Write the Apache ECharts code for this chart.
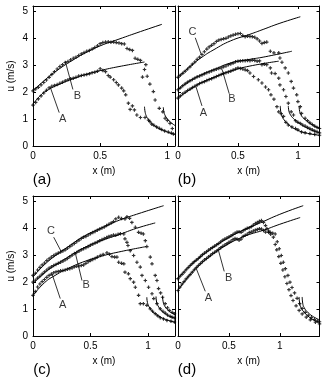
<!DOCTYPE html>
<html>
<head>
<meta charset="utf-8">
<script src="https://cdn.jsdelivr.net/npm/echarts@6/dist/echarts.min.js"></script>
<style>
html,body{margin:0;padding:0;background:#fff;}
#chart{width:327px;height:378px;}
</style>
</head>
<body>
<div id="chart"></div>
<script>
// ---------- data (x in m, u in m/s) ----------
const panelNames = ['(a)', '(b)', '(c)', '(d)'];
const xMaxes = [1.057, 1.18, 1.235, 1.39];
const yMax = 5.2;
const xTickStep = 0.5;
const yTickStep = 1;

// panel (a)
const a_ptsB = [[0,2.05],[0.02,2.12],[0.04,2.18],[0.06,2.27],[0.08,2.36],[0.10,2.45],[0.12,2.55],[0.14,2.66],[0.16,2.76],[0.18,2.86],[0.20,2.95],[0.22,3.02],[0.24,3.10],[0.26,3.14],[0.28,3.20],[0.30,3.26],[0.32,3.30],[0.34,3.36],[0.36,3.42],[0.38,3.47],[0.40,3.52],[0.42,3.55],[0.44,3.60],[0.46,3.66],[0.48,3.72],[0.50,3.80],[0.52,3.84],[0.54,3.86],[0.56,3.87],[0.58,3.85],[0.60,3.86],[0.62,3.84],[0.64,3.83],[0.66,3.80],[0.68,3.79],[0.70,3.62],[0.72,3.58],[0.74,3.55],[0.76,3.26],[0.78,3.22],[0.80,3.18],[0.815,2.56],[0.83,2.84],[0.84,3.02],[0.85,2.59],[0.87,2.30],[0.896,2.02],[0.909,1.71],[0.94,1.40],[0.966,1.27],[0.983,1.03],[1.0,0.95],[1.02,0.84],[1.037,0.65]];
const a_ptsA = [[0,1.52],[0.02,1.62],[0.04,1.75],[0.06,1.86],[0.08,1.97],[0.10,2.07],[0.12,2.16],[0.14,2.22],[0.16,2.25],[0.18,2.28],[0.20,2.33],[0.22,2.37],[0.24,2.42],[0.26,2.46],[0.28,2.50],[0.30,2.52],[0.32,2.55],[0.34,2.60],[0.36,2.62],[0.38,2.64],[0.40,2.66],[0.42,2.68],[0.44,2.72],[0.46,2.74],[0.48,2.78],[0.50,2.87],[0.52,2.80],[0.54,2.76],[0.56,2.62],[0.575,2.56],[0.60,2.46],[0.62,2.36],[0.636,2.27],[0.66,2.15],[0.675,2.05],[0.69,1.90],[0.71,1.59],[0.723,1.36],[0.74,1.49],[0.755,1.34],[0.773,1.15],[0.80,1.06],[0.834,1.06],[0.86,0.96],[0.87,0.90],[0.884,0.81],[0.90,0.77],[0.92,0.71],[0.94,0.66],[0.958,0.61],[0.98,0.56],[1.007,0.52],[1.03,0.48],[1.045,0.45]];
const a_fitB = [[0,2.05],[0.1,2.5],[0.2,2.88],[0.3,3.2],[0.39,3.46],[0.5,3.72],[0.64,3.97],[0.8,4.25],[0.96,4.52]];
const a_fitA = [[0,1.55],[0.05,1.85],[0.1,2.05],[0.2,2.3],[0.3,2.5],[0.39,2.65],[0.5,2.8],[0.64,2.95],[0.83,3.12]];
const a_decayA = [[0.83,1.46],[0.835,1.25],[0.845,1.1],[0.86,0.98],[0.884,0.84],[0.92,0.7],[0.96,0.6],[1.0,0.52],[1.057,0.42]];
const a_decayB = [[0.97,1.44],[0.975,1.25],[0.985,1.12],[0.995,1.04],[1.02,0.9],[1.057,0.76]];
const a_tags = [['B',0.331,1.84,0.297,2.10,0.24,3.15],['A',0.22,0.99,0.195,1.24,0.128,2.19]];

// panel (b)
const b_ptsC = [[0,2.55],[0.02,2.63],[0.04,2.70],[0.06,2.78],[0.08,2.86],[0.10,2.94],[0.12,3.04],[0.14,3.12],[0.16,3.22],[0.18,3.30],[0.20,3.40],[0.22,3.50],[0.24,3.60],[0.26,3.68],[0.28,3.74],[0.30,3.80],[0.32,3.88],[0.34,3.93],[0.36,3.96],[0.38,3.98],[0.40,4.00],[0.42,4.05],[0.44,4.09],[0.46,4.12],[0.48,4.15],[0.50,4.17],[0.52,4.18],[0.54,4.10],[0.56,4.06],[0.58,4.08],[0.60,4.07],[0.62,4.06],[0.64,4.04],[0.66,3.98],[0.68,3.90],[0.70,3.81],[0.72,3.84],[0.74,3.86],[0.77,3.52],[0.80,3.46],[0.84,3.46],[0.85,3.27],[0.867,3.11],[0.894,2.90],[0.92,2.71],[0.944,2.40],[0.963,2.15],[0.99,1.90],[1.0,1.65],[1.02,1.46],[1.03,1.21],[1.06,1.03],[1.08,0.94],[1.10,0.86],[1.12,0.80],[1.14,0.74],[1.16,0.69],[1.18,0.65]];
const b_ptsB = [[0,2.09],[0.02,2.16],[0.04,2.24],[0.06,2.31],[0.08,2.37],[0.10,2.42],[0.12,2.47],[0.14,2.52],[0.16,2.57],[0.18,2.60],[0.20,2.64],[0.22,2.68],[0.24,2.72],[0.26,2.75],[0.28,2.79],[0.30,2.82],[0.32,2.85],[0.34,2.88],[0.36,2.90],[0.38,2.94],[0.40,2.97],[0.42,3.02],[0.44,3.05],[0.46,3.08],[0.48,3.13],[0.50,3.15],[0.52,3.16],[0.54,3.17],[0.56,3.17],[0.58,3.18],[0.60,3.17],[0.62,3.19],[0.64,3.18],[0.66,3.15],[0.68,3.16],[0.70,3.02],[0.72,3.04],[0.74,3.02],[0.77,2.90],[0.78,2.71],[0.81,2.69],[0.84,2.52],[0.85,2.27],[0.88,2.09],[0.90,1.84],[0.92,1.59],[0.944,1.27],[0.963,1.15],[0.98,0.94],[1.0,0.88],[1.02,0.84],[1.04,0.78],[1.06,0.74],[1.08,0.69],[1.10,0.65],[1.12,0.60],[1.14,0.56],[1.16,0.52],[1.18,0.49]];
const b_ptsA = [[0,1.78],[0.02,1.86],[0.04,1.94],[0.06,2.00],[0.08,2.06],[0.10,2.11],[0.12,2.17],[0.14,2.22],[0.16,2.27],[0.18,2.32],[0.20,2.36],[0.22,2.39],[0.24,2.43],[0.26,2.47],[0.28,2.50],[0.30,2.54],[0.32,2.58],[0.34,2.62],[0.36,2.66],[0.38,2.69],[0.40,2.72],[0.42,2.75],[0.44,2.78],[0.46,2.82],[0.48,2.86],[0.50,2.90],[0.52,2.88],[0.54,2.86],[0.56,2.83],[0.58,2.80],[0.60,2.71],[0.63,2.58],[0.67,2.46],[0.70,2.34],[0.73,2.19],[0.755,2.09],[0.775,1.90],[0.80,1.74],[0.825,1.46],[0.84,1.27],[0.86,1.20],[0.88,1.10],[0.90,0.88],[0.92,0.78],[0.95,0.71],[0.98,0.65],[1.0,0.60],[1.03,0.52],[1.06,0.49],[1.10,0.46],[1.14,0.43],[1.18,0.40]];
const b_fitC = [[0,2.55],[0.1,2.95],[0.2,3.3],[0.3,3.58],[0.436,3.9],[0.6,4.15],[0.71,4.33],[0.85,4.56],[1.02,4.8]];
const b_fitB = [[0,2.09],[0.1,2.42],[0.2,2.65],[0.3,2.84],[0.436,3.08],[0.6,3.22],[0.71,3.3],[0.95,3.52]];
const b_fitA = [[0,1.78],[0.1,2.1],[0.2,2.36],[0.3,2.55],[0.436,2.78],[0.6,2.97],[0.84,3.15]];
const b_decayC = [[1.01,1.49],[1.015,1.28],[1.03,1.12],[1.05,1.02],[1.09,0.88],[1.13,0.76],[1.18,0.66]];
const b_decayB = [[0.92,1.49],[0.925,1.3],[0.94,1.14],[0.963,1.02],[1.0,0.88],[1.04,0.76],[1.075,0.67],[1.13,0.56],[1.18,0.5]];
const b_decayA = [[0.853,1.49],[0.858,1.25],[0.87,1.08],[0.885,0.97],[0.92,0.8],[0.99,0.6],[1.08,0.47],[1.18,0.4]];
const b_tags = [['C',0.12,4.23,0.144,4.02,0.194,3.40],['B',0.45,1.74,0.4275,1.94,0.367,2.85],['A',0.213,1.24,0.2,1.49,0.15,2.2]];

// panel (c)
const c_ptsC = [[0,2.25],[0.02,2.33],[0.04,2.45],[0.06,2.55],[0.08,2.64],[0.10,2.71],[0.12,2.80],[0.14,2.87],[0.16,2.93],[0.18,2.99],[0.20,3.04],[0.22,3.08],[0.24,3.12],[0.26,3.16],[0.28,3.20],[0.30,3.26],[0.32,3.32],[0.34,3.38],[0.36,3.44],[0.38,3.50],[0.40,3.56],[0.42,3.62],[0.44,3.67],[0.46,3.70],[0.48,3.75],[0.50,3.80],[0.52,3.84],[0.54,3.88],[0.56,3.93],[0.58,3.97],[0.60,4.01],[0.62,4.05],[0.64,4.10],[0.66,4.15],[0.68,4.20],[0.70,4.25],[0.72,4.35],[0.745,4.41],[0.77,4.36],[0.80,4.35],[0.817,4.43],[0.84,4.37],[0.86,4.22],[0.89,4.04],[0.918,3.85],[0.94,3.82],[0.96,3.79],[0.977,3.54],[0.99,3.32],[1.02,2.93],[1.035,2.68],[1.063,2.25],[1.078,2.06],[1.092,1.76],[1.11,1.60],[1.127,1.44],[1.15,1.20],[1.17,1.05],[1.185,0.95],[1.21,0.88],[1.23,0.83]];
const c_ptsB = [[0,2.00],[0.02,2.07],[0.04,2.15],[0.06,2.22],[0.08,2.30],[0.10,2.38],[0.12,2.45],[0.14,2.52],[0.16,2.57],[0.18,2.62],[0.20,2.66],[0.22,2.70],[0.24,2.74],[0.26,2.78],[0.28,2.83],[0.30,2.88],[0.32,2.94],[0.34,3.00],[0.36,3.06],[0.38,3.10],[0.40,3.15],[0.42,3.20],[0.44,3.24],[0.46,3.28],[0.48,3.32],[0.50,3.37],[0.52,3.41],[0.54,3.45],[0.56,3.49],[0.58,3.54],[0.60,3.58],[0.62,3.62],[0.64,3.66],[0.66,3.70],[0.68,3.72],[0.70,3.75],[0.72,3.74],[0.74,3.78],[0.76,3.80],[0.79,3.79],[0.80,3.61],[0.817,3.48],[0.826,3.36],[0.846,3.17],[0.875,2.99],[0.904,2.74],[0.933,2.56],[0.948,2.25],[0.977,2.06],[1.005,1.81],[1.035,1.57],[1.05,1.39],[1.078,1.20],[1.107,1.01],[1.13,0.92],[1.15,0.85],[1.17,0.78],[1.193,0.73],[1.21,0.70],[1.23,0.67]];
const c_ptsA = [[0,1.51],[0.02,1.65],[0.04,1.82],[0.06,1.93],[0.08,2.02],[0.10,2.10],[0.12,2.18],[0.14,2.25],[0.16,2.30],[0.18,2.35],[0.20,2.38],[0.22,2.40],[0.24,2.42],[0.26,2.43],[0.28,2.45],[0.30,2.48],[0.32,2.50],[0.34,2.53],[0.36,2.57],[0.38,2.59],[0.40,2.60],[0.42,2.62],[0.44,2.64],[0.46,2.70],[0.48,2.76],[0.50,2.80],[0.52,2.84],[0.54,2.88],[0.56,2.93],[0.585,2.99],[0.61,3.03],[0.643,3.09],[0.665,3.04],[0.687,2.95],[0.71,2.93],[0.73,2.93],[0.745,2.74],[0.77,2.70],[0.79,2.68],[0.80,2.37],[0.83,2.31],[0.846,2.13],[0.875,2.00],[0.89,1.81],[0.918,1.51],[0.933,1.20],[0.96,1.20],[0.99,1.14],[1.02,1.01],[1.04,0.92],[1.063,0.83],[1.085,0.75],[1.107,0.68],[1.135,0.63],[1.165,0.58],[1.20,0.55],[1.23,0.52]];
const c_fitC = [[0,2.2],[0.1,2.65],[0.2,3.0],[0.3,3.3],[0.45,3.72],[0.6,4.02],[0.75,4.3],[0.9,4.52],[1.136,4.84]];
const c_fitB = [[0,1.95],[0.1,2.35],[0.2,2.65],[0.3,2.92],[0.455,3.3],[0.6,3.55],[0.745,3.76],[0.9,4.0],[1.063,4.2]];
const c_fitA = [[0,1.5],[0.1,1.98],[0.2,2.27],[0.3,2.5],[0.455,2.78],[0.6,2.97],[0.745,3.12],[0.983,3.32]];
const c_decayC = [[1.127,1.47],[1.132,1.27],[1.15,1.08],[1.18,0.94],[1.21,0.85],[1.235,0.79]];
const c_decayB = [[1.07,1.47],[1.075,1.26],[1.093,1.08],[1.12,0.93],[1.15,0.83],[1.18,0.75],[1.235,0.66]];
const c_decayA = [[0.99,1.44],[0.995,1.25],[1.01,1.08],[1.04,0.91],[1.09,0.75],[1.15,0.62],[1.235,0.51]];
const c_tags = [['C',0.157,3.91,0.18,3.67,0.25,3.10],['B',0.463,1.88,0.426,2.06,0.368,3.08],['A',0.258,1.16,0.237,1.39,0.165,2.31]];

// panel (d)
const d_ptsB = [[0,2.13],[0.02,2.22],[0.04,2.29],[0.06,2.37],[0.08,2.46],[0.10,2.54],[0.12,2.62],[0.14,2.69],[0.16,2.76],[0.18,2.82],[0.20,2.88],[0.22,2.95],[0.24,3.02],[0.26,3.08],[0.28,3.13],[0.30,3.19],[0.32,3.24],[0.34,3.29],[0.36,3.34],[0.38,3.39],[0.40,3.44],[0.42,3.50],[0.44,3.56],[0.46,3.60],[0.48,3.64],[0.50,3.68],[0.52,3.72],[0.54,3.77],[0.56,3.82],[0.58,3.86],[0.60,3.87],[0.62,3.85],[0.64,3.91],[0.66,3.96],[0.68,4.00],[0.70,4.02],[0.72,4.06],[0.74,4.12],[0.76,4.18],[0.78,4.22],[0.80,4.26],[0.82,4.29],[0.84,4.22],[0.86,4.10],[0.873,3.98],[0.89,3.90],[0.905,3.85],[0.93,3.82],[0.955,3.79],[0.975,3.50],[0.995,3.24],[1.015,2.99],[1.035,2.74],[1.055,2.50],[1.08,2.25],[1.10,2.00],[1.12,1.80],[1.145,1.60],[1.17,1.40],[1.195,1.20],[1.22,1.02],[1.25,0.88],[1.28,0.77],[1.31,0.68],[1.34,0.61],[1.37,0.56],[1.39,0.53]];
const d_ptsA = [[0,1.69],[0.02,1.82],[0.04,1.93],[0.06,2.02],[0.08,2.12],[0.10,2.20],[0.12,2.28],[0.14,2.37],[0.16,2.46],[0.18,2.54],[0.20,2.62],[0.22,2.69],[0.24,2.76],[0.26,2.83],[0.28,2.88],[0.30,2.94],[0.32,3.00],[0.34,3.06],[0.36,3.11],[0.38,3.16],[0.40,3.22],[0.42,3.28],[0.44,3.33],[0.46,3.38],[0.48,3.43],[0.50,3.48],[0.52,3.52],[0.54,3.58],[0.56,3.62],[0.58,3.60],[0.60,3.56],[0.62,3.60],[0.64,3.70],[0.66,3.74],[0.68,3.78],[0.70,3.84],[0.72,3.86],[0.74,3.90],[0.76,3.93],[0.78,3.96],[0.80,3.98],[0.82,3.97],[0.84,3.92],[0.86,3.86],[0.89,3.85],[0.91,3.78],[0.937,3.67],[0.955,3.40],[0.97,3.20],[0.99,2.95],[1.01,2.70],[1.03,2.45],[1.05,2.20],[1.07,1.95],[1.09,1.72],[1.11,1.50],[1.13,1.32],[1.16,1.12],[1.19,0.95],[1.22,0.82],[1.26,0.70],[1.30,0.60],[1.35,0.51],[1.39,0.45]];
const d_fitB = [[0,2.13],[0.1,2.55],[0.2,2.88],[0.3,3.17],[0.4,3.43],[0.5,3.66],[0.6,3.86],[0.7,4.03],[0.807,4.2],[1.0,4.52],[1.23,4.84]];
const d_fitA = [[0,1.69],[0.1,2.2],[0.2,2.6],[0.3,2.92],[0.4,3.2],[0.5,3.43],[0.6,3.62],[0.7,3.77],[0.84,3.93],[1.0,4.15],[1.2,4.4]];
const d_decayA = [[1.19,1.45],[1.195,1.22],[1.21,1.04],[1.24,0.88],[1.29,0.7],[1.34,0.58],[1.39,0.5]];
const d_decayB = [[1.22,1.45],[1.225,1.22],[1.24,1.05],[1.27,0.9],[1.32,0.74],[1.39,0.6]];
const d_tags = [['B',0.497,2.15,0.454,2.40,0.398,3.17],['A',0.30,1.41,0.268,1.66,0.18,2.5]];

// ---------- chart ----------
const FONT = '"Liberation Sans", Arial, Helvetica, sans-serif';
const PLUS = 'path://M1,0H2V1H3V2H2V3H1V2H0V1H1Z';
const grids = [
  {left: 33, top: 6, width: 142, height: 140},
  {left: 178, top: 6, width: 141.5, height: 140},
  {left: 33, top: 196, width: 142, height: 140},
  {left: 178, top: 196, width: 141.5, height: 140}
];
const panels = [
  {pts: [a_ptsB, a_ptsA], fits: [a_fitB, a_fitA, a_decayA, a_decayB], tags: a_tags},
  {pts: [b_ptsC, b_ptsB, b_ptsA], fits: [b_fitC, b_fitB, b_fitA, b_decayC, b_decayB, b_decayA], tags: b_tags},
  {pts: [c_ptsC, c_ptsB, c_ptsA], fits: [c_fitC, c_fitB, c_fitA, c_decayC, c_decayB, c_decayA], tags: c_tags},
  {pts: [d_ptsB, d_ptsA], fits: [d_fitB, d_fitA, d_decayA, d_decayB], tags: d_tags}
];

const xAxes = [], yAxes = [], series = [], graphics = [];
const lineCol = '#000';
function fmtX(v) { return Math.abs(v / xTickStep - Math.round(v / xTickStep)) < 1e-6 ? String(+v.toFixed(2)) : ''; }
function fmtY(v) { return Math.abs(v / yTickStep - Math.round(v / yTickStep)) < 1e-6 ? String(Math.round(v)) : ''; }

grids.forEach((g, i) => {
  const common = {min: 0, splitLine: {show: false},
    axisLine: {show: true, onZero: false, lineStyle: {color: lineCol, width: 1}},
    axisTick: {show: true, inside: true, length: 3, lineStyle: {color: lineCol, width: 1}}};
  xAxes.push(Object.assign({}, common, {type: 'value', gridIndex: i, position: 'bottom', max: xMaxes[i], interval: xTickStep,
    name: 'x (m)', nameLocation: 'middle', nameGap: 20,
    nameTextStyle: {fontFamily: FONT, fontSize: 10, color: '#000'},
    axisLabel: {show: true, margin: 5, formatter: fmtX, fontFamily: FONT, fontSize: 10, color: '#000', showMaxLabel: false}}));
  xAxes.push(Object.assign({}, common, {type: 'value', gridIndex: i, position: 'top', max: xMaxes[i], interval: xTickStep,
    axisLabel: {show: false}}));
  yAxes.push(Object.assign({}, common, {type: 'value', gridIndex: i, position: 'left', max: yMax, interval: yTickStep,
    name: (i % 2 === 0) ? 'u (m/s)' : '', nameLocation: 'middle', nameGap: 17,
    nameTextStyle: {fontFamily: FONT, fontSize: 10, color: '#000'},
    axisLabel: {show: i % 2 === 0, margin: 5, formatter: fmtY, fontFamily: FONT, fontSize: 10, color: '#000'}}));
  yAxes.push(Object.assign({}, common, {type: 'value', gridIndex: i, position: 'right', max: yMax, interval: yTickStep,
    axisLabel: {show: false}}));

  const p = panels[i];
  p.pts.forEach(d => series.push({type: 'scatter', xAxisIndex: 2 * i, yAxisIndex: 2 * i, data: d,
    symbol: PLUS, symbolSize: 3.5, itemStyle: {color: '#000'}, silent: true, z: 3}));
  p.fits.forEach(d => series.push({type: 'line', xAxisIndex: 2 * i, yAxisIndex: 2 * i, data: d,
    smooth: true, showSymbol: false, symbol: 'none', lineStyle: {color: '#000', width: 1}, silent: true, z: 4}));
  p.tags.forEach(t => {
    series.push({type: 'line', xAxisIndex: 2 * i, yAxisIndex: 2 * i, data: [[t[3], t[4]], [t[5], t[6]]],
      showSymbol: false, symbol: 'none', lineStyle: {color: '#000', width: 0.8}, silent: true, z: 4});
    series.push({type: 'scatter', xAxisIndex: 2 * i, yAxisIndex: 2 * i, data: [[t[1], t[2]]],
      symbolSize: 1, itemStyle: {color: 'rgba(0,0,0,0)'}, silent: true, z: 5,
      label: {show: true, position: 'inside', formatter: t[0], fontFamily: FONT, fontSize: 11, color: '#000'}});
  });

  graphics.push({type: 'text', x: g.left + 9, y: g.top + g.height + 34,
    style: {text: panelNames[i], fontFamily: FONT, fontSize: 15, fill: '#000', align: 'center', verticalAlign: 'middle'}});
});

const chart = echarts.init(document.getElementById('chart'), null, {renderer: 'canvas'});
chart.setOption({
  animation: false,
  backgroundColor: '#fff',
  grid: grids,
  xAxis: xAxes,
  yAxis: yAxes,
  series: series,
  graphic: graphics
});
</script>
</body>
</html>
